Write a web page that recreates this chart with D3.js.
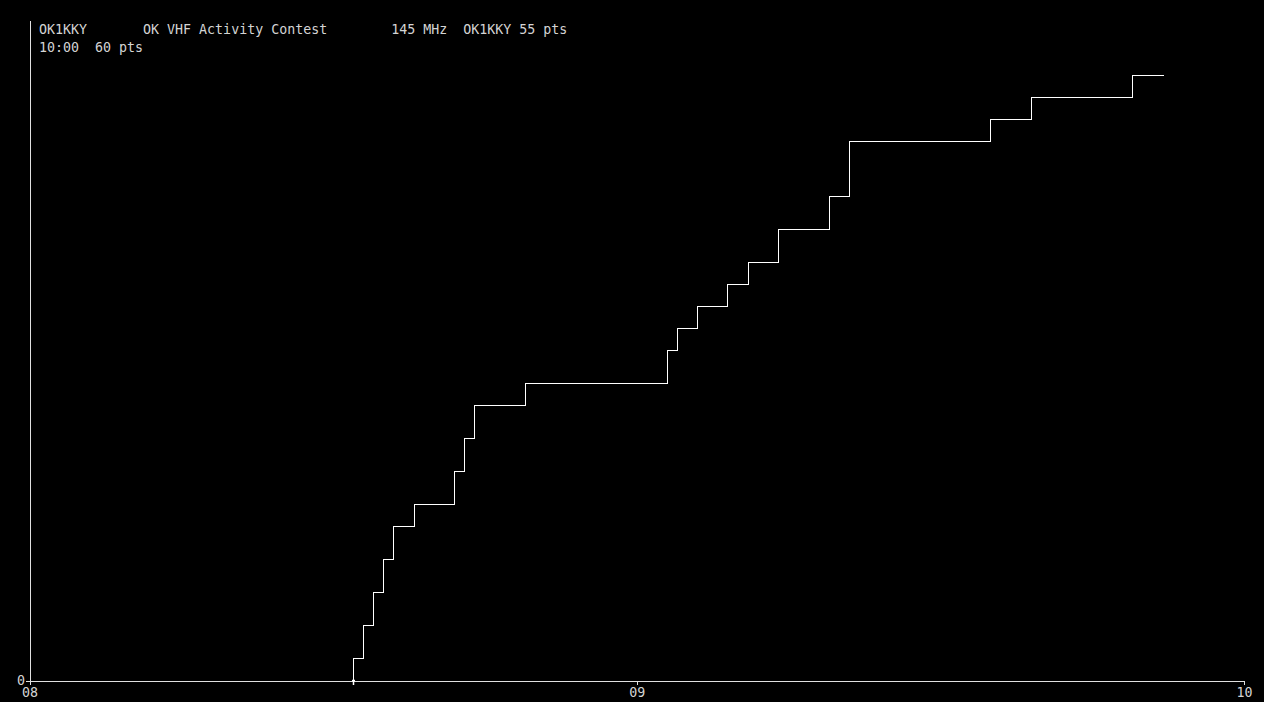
<!DOCTYPE html>
<html>
<head>
<meta charset="utf-8">
<script src="https://cdn.jsdelivr.net/npm/d3@7"></script>
<style>
  html, body { margin: 0; padding: 0; background: #000; }
  svg { display: block; }
  text { font-family: "DejaVu Sans Mono", "Liberation Mono", monospace; font-size: 13.3px; fill: #d4d4d4; }
  .axis path, .axis line { stroke: #e0e0e0; shape-rendering: crispEdges; }
  .axis text { font-size: 13.3px; fill: #d4d4d4; }
</style>
</head>
<body>
<div id="chart"></div>
<script>
// Header lines (monospace columns)
const headerLine1 = 'OK1KKY       OK VHF Activity Contest        145 MHz  OK1KKY 55 pts';
const headerLine2 = '10:00  60 pts';

// Axis extents and ticks
const timeStart = '08:00';
const timeEnd = '10:00';
const xTicks = ['08:00', '09:00', '10:00'];
const yMax = 60;
const yTicks = [0];

// QSO log: time of each contact and running score after it
const qsoTimes = ['08:32', '08:33', '08:34', '08:35', '08:36', '08:38', '08:42', '08:43', '08:44', '08:49',
  '09:03', '09:04', '09:06', '09:09', '09:11', '09:14', '09:19', '09:21', '09:35', '09:39', '09:49'];
const qsoScores = [2, 5, 8, 11, 14, 16, 19, 22, 25, 27,
  30, 32, 34, 36, 38, 41, 44, 49, 51, 53, 55];
const lastTime = '09:52';

(function () {
  const width = 1264;
  const height = 702;
  const margin = { top: 20, right: 20, bottom: 22, left: 29.5 };

  const parse = d3.timeParse('%H:%M');

  const svg = d3.select('#chart').append('svg')
    .attr('width', width)
    .attr('height', height);

  svg.append('rect')
    .attr('width', width)
    .attr('height', height)
    .attr('fill', '#000');

  const x = d3.scaleTime()
    .domain([parse(timeStart), parse(timeEnd)])
    .range([margin.left, 1244]);

  const y = d3.scaleLinear()
    .domain([0, yMax])
    .range([680.5, margin.top + 0.5]);

  // Axes
  svg.append('g')
    .attr('class', 'axis x-axis')
    .attr('transform', `translate(0,${y(0)})`)
    .call(d3.axisBottom(x)
      .tickValues(xTicks.map(parse))
      .tickFormat(d3.timeFormat('%H'))
      .tickSize(4)
      .tickSizeOuter(0))
    .call(g => g.selectAll('text').attr('dy', '0.71em').attr('y', 7));

  svg.append('g')
    .attr('class', 'axis y-axis')
    .attr('transform', `translate(${margin.left},0)`)
    .call(d3.axisLeft(y)
      .tickValues(yTicks)
      .tickSize(4)
      .tickSizeOuter(0))
    .call(g => g.selectAll('text').attr('x', -4.5));

  // Header
  svg.append('text')
    .attr('x', 39)
    .attr('y', 34)
    .style('white-space', 'pre')
    .text(headerLine1);

  svg.append('text')
    .attr('x', 39)
    .attr('y', 52)
    .style('white-space', 'pre')
    .text(headerLine2);

  // Cumulative score step line
  const pts = [{ t: parse(qsoTimes[0]), s: 0 }]
    .concat(qsoTimes.map((t, i) => ({ t: parse(t), s: qsoScores[i] })))
    .concat([{ t: parse(lastTime), s: qsoScores[qsoScores.length - 1] }]);

  const line = d3.line()
    .x(d => Math.round(x(d.t) - 0.5) + 0.5)
    .y(d => Math.round(y(d.s) - 0.5) + 0.5)
    .curve(d3.curveStepAfter);

  svg.append('path')
    .datum(pts)
    .attr('fill', 'none')
    .attr('stroke', '#fff')
    .attr('stroke-width', 1)
    .attr('shape-rendering', 'crispEdges')
    .attr('d', line);

  // Start marker
  const sx = Math.round(x(pts[0].t) - 0.5) + 0.5;
  const sy = y(0);
  svg.append('path')
    .attr('d', `M${sx},${sy} V${sy + 4.5} M${sx - 1.5},${sy} H${sx + 1.5}`)
    .attr('stroke', '#fff')
    .attr('stroke-width', 1.5)
    .attr('fill', 'none');
})();
</script>
</body>
</html>
